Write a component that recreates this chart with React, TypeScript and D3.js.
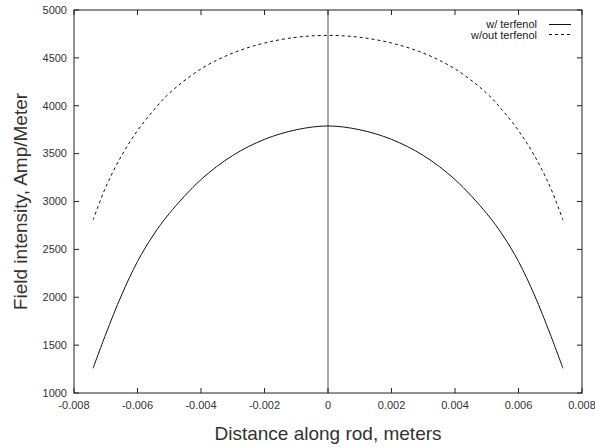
import React from "react";
import * as d3 from "d3";

const xPositions = [-0.0074, -0.007, -0.0065, -0.006, -0.0055, -0.005, -0.004, -0.003, -0.002, -0.001, 0, 0.001, 0.002, 0.003, 0.004, 0.005, 0.0055, 0.006, 0.0065, 0.007, 0.0074];
const withTerfenol = [1258, 1614, 2024, 2374, 2650, 2874, 3229, 3481, 3649, 3749, 3789, 3749, 3649, 3481, 3229, 2874, 2650, 2374, 2024, 1614, 1258];
const withoutTerfenol = [2806, 3150, 3480, 3740, 3950, 4130, 4385, 4550, 4655, 4715, 4735, 4715, 4655, 4550, 4385, 4130, 3950, 3740, 3480, 3150, 2806];
const xTicks = [-0.008, -0.006, -0.004, -0.002, 0, 0.002, 0.004, 0.006, 0.008];
const xTickLabels = ["-0.008", "-0.006", "-0.004", "-0.002", "0", "0.002", "0.004", "0.006", "0.008"];
const yTicks = [1000, 1500, 2000, 2500, 3000, 3500, 4000, 4500, 5000];
const seriesNames = ["w/ terfenol", "w/out terfenol"];

const W = 595, H = 447;
const L = 74, R = 582, T = 10, B = 393;
const FONT = "'Liberation Sans', Arial, Helvetica, sans-serif";

export default function App() {
  const x = d3.scaleLinear().domain([-0.008, 0.008]).range([L, R]);
  const y = d3.scaleLinear().domain([1000, 5000]).range([B, T]);
  const line = d3
    .line<number>()
    .x((_, i) => x(xPositions[i]))
    .y((d) => y(d))
    .curve(d3.curveCatmullRom.alpha(0.5));
  const tickLen = 5;
  return (
    <svg width={W} height={H} style={{ position: "absolute", left: 0, top: 0, background: "#fff" }}>
      <rect x={0} y={0} width={W} height={H} fill="#fff" />
      {/* zero axis */}
      <line x1={x(0)} x2={x(0)} y1={T} y2={B} stroke="#555" strokeWidth={1} />
      {/* ticks */}
      {xTicks.map((t, i) => (
        <g key={"xt" + i}>
          <line x1={x(t)} x2={x(t)} y1={B} y2={B - tickLen} stroke="#222" />
          <line x1={x(t)} x2={x(t)} y1={T} y2={T + tickLen} stroke="#222" />
          <text x={x(t)} y={409} textAnchor="middle" fontFamily={FONT} fontSize={11} fill="#333">
            {xTickLabels[i]}
          </text>
        </g>
      ))}
      {yTicks.map((t, i) => (
        <g key={"yt" + i}>
          <line x1={L} x2={L + tickLen} y1={y(t)} y2={y(t)} stroke="#222" />
          <line x1={R} x2={R - tickLen} y1={y(t)} y2={y(t)} stroke="#222" />
          <text x={67} y={y(t)} dy="0.35em" textAnchor="end" fontFamily={FONT} fontSize={11} fill="#333">
            {t}
          </text>
        </g>
      ))}
      {/* frame */}
      <rect x={L} y={T} width={R - L} height={B - T} fill="none" stroke="#222" strokeWidth={1} />
      {/* curves */}
      <path d={line(withTerfenol) || ""} fill="none" stroke="#111" strokeWidth={1} />
      <path d={line(withoutTerfenol) || ""} fill="none" stroke="#111" strokeWidth={1} strokeDasharray="3,3" />
      {/* legend */}
      <text x={537} y={24} dy="0.35em" textAnchor="end" fontFamily={FONT} fontSize={11} fill="#222">
        {seriesNames[0]}
      </text>
      <line x1={549} x2={571} y1={24.5} y2={24.5} stroke="#111" />
      <text x={537} y={35} dy="0.35em" textAnchor="end" fontFamily={FONT} fontSize={11} fill="#222">
        {seriesNames[1]}
      </text>
      <line x1={549} x2={571} y1={34.5} y2={34.5} stroke="#111" strokeDasharray="3,3" />
      {/* axis titles */}
      <text x={328} y={440} textAnchor="middle" fontFamily={FONT} fontSize={19} fill="#333">
        Distance along rod, meters
      </text>
      <text
        transform={`translate(27,${(T + B) / 2}) rotate(-90)`}
        textAnchor="middle"
        fontFamily={FONT}
        fontSize={19}
        fill="#333"
      >
        Field intensity, Amp/Meter
      </text>
    </svg>
  );
}
